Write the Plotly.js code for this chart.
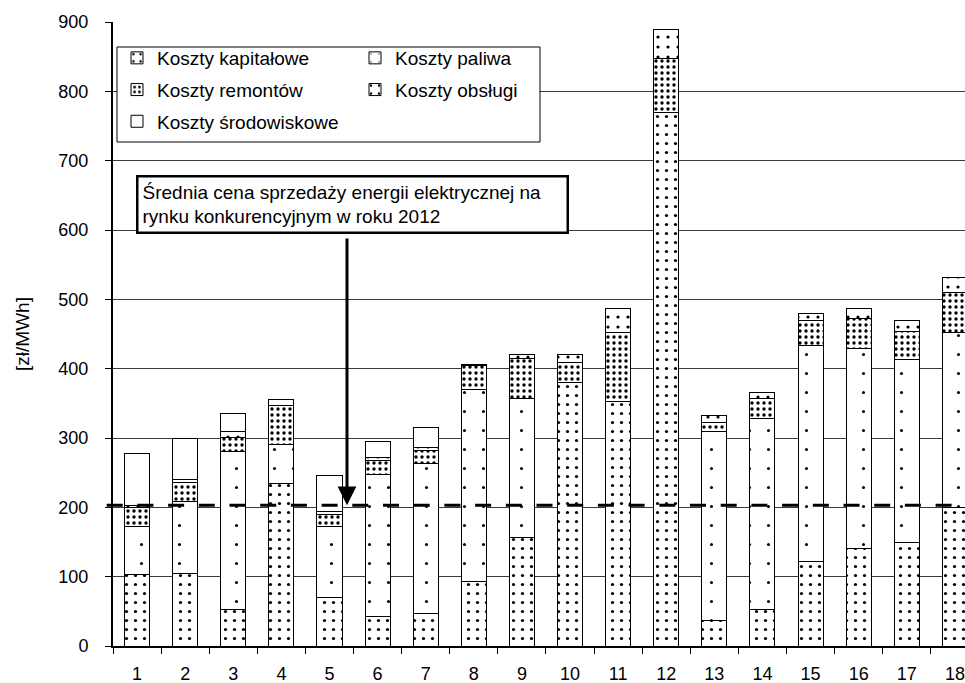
<!DOCTYPE html>
<html>
<head>
<meta charset="utf-8">
<script src="https://cdn.plot.ly/plotly-3.0.1.min.js"></script>
<style>html,body{margin:0;padding:0;background:#fff;}#chart{width:965px;height:683px;}</style>
</head>
<body>
<div id="chart"></div>
<script>
const categories = ['1','2','3','4','5','6','7','8','9','10','11','12','13','14','15','16','17','18'];
const kosztyKapitalowe   = [103, 104,  52, 235,  70,  42,  47,  93, 157, 380, 352, 769,  37,  52, 122, 140, 150, 200];
const kosztyPaliwa       = [ 69, 105, 229,  56, 102, 206, 216, 277, 200,   0,   0,   0, 272, 276, 311, 289, 263, 252];
const kosztyRemontow     = [ 28,  27,  20,  56,  18,  20,  19,  34,  57,  29, 100,  78,  14,  29,  37,  44,  40,  58];
const kosztyObslugi      = [  3,   4,   8,   8,   4,   4,   4,   2,   7,  12,  35,  42,  10,   9,   9,  14,  17,  22];
const kosztySrodowiskowe = [ 75,  60,  27,   0,  52,  23,  29,   0,   0,   0,   0,   0,   0,   0,   0,   0,   0,   0];
const sredniaCena = 203;
const sredniaCenaLabel = 'Średnia cena sprzedaży energii elektrycznej na<br>rynku konkurencyjnym w roku 2012';

const FONT = 'Liberation Sans, Arial, Helvetica, sans-serif';

function bar(name, y, legend, pattern) {
  const marker = {color: 'white', line: {color: 'black', width: 1}};
  if (pattern) marker.pattern = Object.assign({fgcolor: 'black', bgcolor: 'white', fgopacity: 1, fillmode: 'replace'}, pattern);
  return {type: 'bar', name: name, x: categories, y: y, legend: legend, legendgroup: name, marker: marker, hoverinfo: 'skip'};
}

const data = [
  bar('Koszty kapitałowe', kosztyKapitalowe, 'legend', {shape: '.', size: 9, solidity: 0.1}),
  bar('Koszty paliwa', kosztyPaliwa, 'legend2', {shape: '.', size: 19, solidity: 0.02}),
  bar('Koszty remontów', kosztyRemontow, 'legend', {shape: '.', size: 6, solidity: 0.25}),
  bar('Koszty obsługi', kosztyObslugi, 'legend2', {shape: '.', size: 10, solidity: 0.08}),
  bar('Koszty środowiskowe', kosztySrodowiskowe, 'legend', null)
];

// plot area in px: x 113..965, y 22..646
const L = 113, T = 22, W = 852, H = 624;
const px = v => (v - L) / W;
const py = v => 1 - (v - T) / H;

const legendCommon = {
  xanchor: 'left', yanchor: 'top', orientation: 'v',
  bgcolor: 'rgba(0,0,0,0)', borderwidth: 0,
  font: {family: FONT, size: 19, color: 'black'},
  traceorder: 'grouped', tracegroupgap: 4
};

const layout = {
  width: 965, height: 683,
  margin: {l: L, r: 0, t: T, b: 683 - T - H, pad: 0},
  paper_bgcolor: 'white', plot_bgcolor: 'white',
  font: {family: FONT, color: 'black', size: 18},
  barmode: 'stack', bargap: 0.48,
  showlegend: true,
  xaxis: {
    type: 'category', range: [-0.5, 17.21], tickson: 'boundaries',
    ticks: 'outside', ticklen: 6, tickcolor: 'black', tickwidth: 1,
    showline: true, linecolor: 'black', linewidth: 1.5,
    showgrid: false, zeroline: false, ticklabelstandoff: 11,
    tickfont: {family: FONT, size: 18, color: 'black'}
  },
  yaxis: {
    range: [0, 900], tick0: 0, dtick: 100,
    ticks: 'outside', ticklen: 6, tickcolor: 'black', tickwidth: 1,
    showline: true, linecolor: 'black', linewidth: 2,
    showgrid: true, gridcolor: '#3a3a3a', gridwidth: 1, zeroline: false,
    ticklabelstandoff: 13,
    tickfont: {family: FONT, size: 18, color: 'black'},
    title: {text: '[zł/MWh]', font: {family: FONT, size: 19, color: 'black'}, standoff: 24}
  },
  legend: Object.assign({x: px(117), y: py(39)}, legendCommon),
  legend2: Object.assign({x: px(355), y: py(39)}, legendCommon),
  shapes: [
    {type: 'rect', xref: 'paper', yref: 'paper', x0: px(117), x1: px(540), y0: py(142), y1: py(47),
     fillcolor: 'white', line: {color: 'black', width: 1}, layer: 'above'},
    {type: 'line', xref: 'paper', yref: 'y', x0: px(106.7), x1: 1, y0: sredniaCena, y1: sredniaCena,
     line: {color: 'black', width: 3.2, dash: '16px,14.7px'}, layer: 'above'}
  ],
  annotations: [
    {xref: 'paper', yref: 'paper', x: px(136), y: py(175), xanchor: 'left', yanchor: 'top',
     text: sredniaCenaLabel, showarrow: false, align: 'left',
     font: {family: FONT, size: 19, color: 'black'},
     bgcolor: 'white', bordercolor: 'black', borderwidth: 2.5, borderpad: 4, width: 420},
    {xref: 'paper', yref: 'y', x: px(347), y: sredniaCena, text: '', showarrow: true,
     ax: 0, ay: -200, axref: 'pixel', ayref: 'pixel',
     arrowhead: 2, arrowsize: 1.25, arrowwidth: 3, arrowcolor: 'black', standoff: 0}
  ]
};
// arrow tail at bottom of the text box (px y 237)
layout.annotations[1].ay = -((T + H - sredniaCena * H / 900) - 237);

Plotly.newPlot('chart', data, layout, {staticPlot: true, displayModeBar: false});
</script>
</body>
</html>
